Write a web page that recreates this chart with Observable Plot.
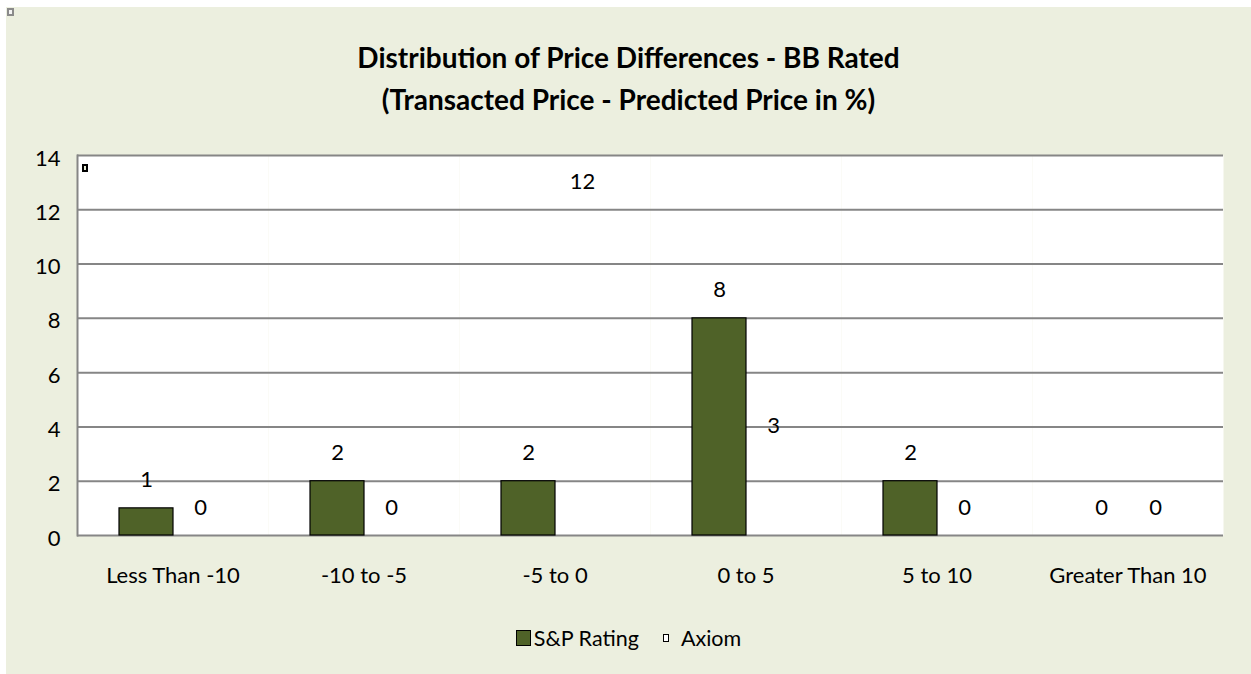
<!DOCTYPE html>
<html>
<head>
<meta charset="utf-8">
<script src="https://cdn.jsdelivr.net/npm/d3@7"></script>
<script src="https://cdn.jsdelivr.net/npm/@observablehq/plot@0.6"></script>
<style>
  html, body { margin: 0; padding: 0; background: #ffffff; }
  #chart { position: absolute; left: 6px; top: 7px; width: 1245px; height: 667px; background: #ECEFDF; font-family: Lato, "Open Sans", sans-serif; color: #000; }
  #title { position: absolute; left: 0; width: 1245px; top: 29px; text-align: center; font-weight: bold; font-size: 28px; line-height: 42px; }
  #plot { position: absolute; left: 0; top: 126px; }
  #legend { position: absolute; left: 0; width: 1245px; top: 615px; text-align: center; font-size: 21.5px; line-height: 26px; }
  .sw { display: inline-block; vertical-align: middle; box-sizing: border-box; }
  .artifact { position: absolute; box-sizing: border-box; }
</style>
</head>
<body>
<div id="chart">
  <div class="artifact" style="left:1px;top:1px;width:7px;height:8px;border:2px solid #8a8a8a;background:#f4f4f4;"></div>
  <div id="title">Distribution of Price Differences - BB Rated<br>(Transacted Price - Predicted Price in %)</div>
  <div id="plot"></div>
  <div id="legend"></div>
</div>
<script>
const categories = ["Less Than -10", "-10 to -5", "-5 to 0", "0 to 5", "5 to 10", "Greater Than 10"];
const series = ["S&P Rating", "Axiom"];
const spValues = [1, 2, 2, 8, 2, 0];
const axiomValues = [0, 0, 12, 3, 0, 0];
const yTicks = [0, 2, 4, 6, 8, 10, 12, 14];
const seriesColors = ["#4F6228", "transparent"];

const data = categories.flatMap((c, i) => [
  {cat: c, series: series[0], value: spValues[i]},
  {cat: c, series: series[1], value: axiomValues[i]}
]);

const chart = Plot.plot({
  width: 1245,
  height: 462,
  marginLeft: 69,
  marginRight: 27,
  marginTop: 22,
  marginBottom: 60,
  style: {background: "transparent", fontFamily: "Lato, 'Open Sans', sans-serif", fontSize: "22px", color: "#000", overflow: "visible"},
  fx: {domain: categories, padding: 0, label: null},
  x: {domain: series, paddingInner: 0, paddingOuter: 0.74, axis: null},
  y: {domain: [0, 14], ticks: yTicks, label: null},
  color: {domain: series, range: seriesColors},
  marks: [
    Plot.frame({fill: "#ffffff", stroke: "none"}),
    Plot.gridY(yTicks, {stroke: "#868686", strokeOpacity: 1, strokeWidth: 2}),
    Plot.frame({anchor: "left", fx: () => categories[0], stroke: "#868686", strokeWidth: 2}),
    Plot.barY(data, {fx: "cat", x: "series", y: "value", fill: "series",
      stroke: d => d.series === series[0] ? "#000" : "none", strokeWidth: 1.2}),
    Plot.text(data, {fx: "cat", x: "series", y: "value", text: d => String(d.value), dy: -28, fontSize: 22, fill: "#000"}),
    Plot.axisY(yTicks, {tickSize: 0, tickPadding: 17, label: null, fontSize: 22, dy: 3}),
    Plot.axisFx({anchor: "bottom", tickSize: 0, tickPadding: 32, label: null, fontSize: 22})
  ]
});
document.getElementById("plot").appendChild(chart);

const legend = document.getElementById("legend");
legend.innerHTML =
  '<span class="sw" style="width:15px;height:16px;background:' + seriesColors[0] + ';border:1.5px solid #000;margin-right:3px;"></span>' +
  '<span style="vertical-align:middle;">' + series[0] + '</span>' +
  '<span class="sw" style="width:6px;height:8px;background:#fff;border:1.5px solid #000;margin-left:24px;margin-right:12px;"></span>' +
  '<span style="vertical-align:middle;">' + series[1] + '</span>';

// small marker artifact inside the plot area
const art = document.createElement("div");
art.className = "artifact";
art.style.cssText = "left:76px;top:157px;width:6px;height:8px;border:2px solid #000;background:#e6ecd5;";
document.getElementById("chart").appendChild(art);
</script>
</body>
</html>
